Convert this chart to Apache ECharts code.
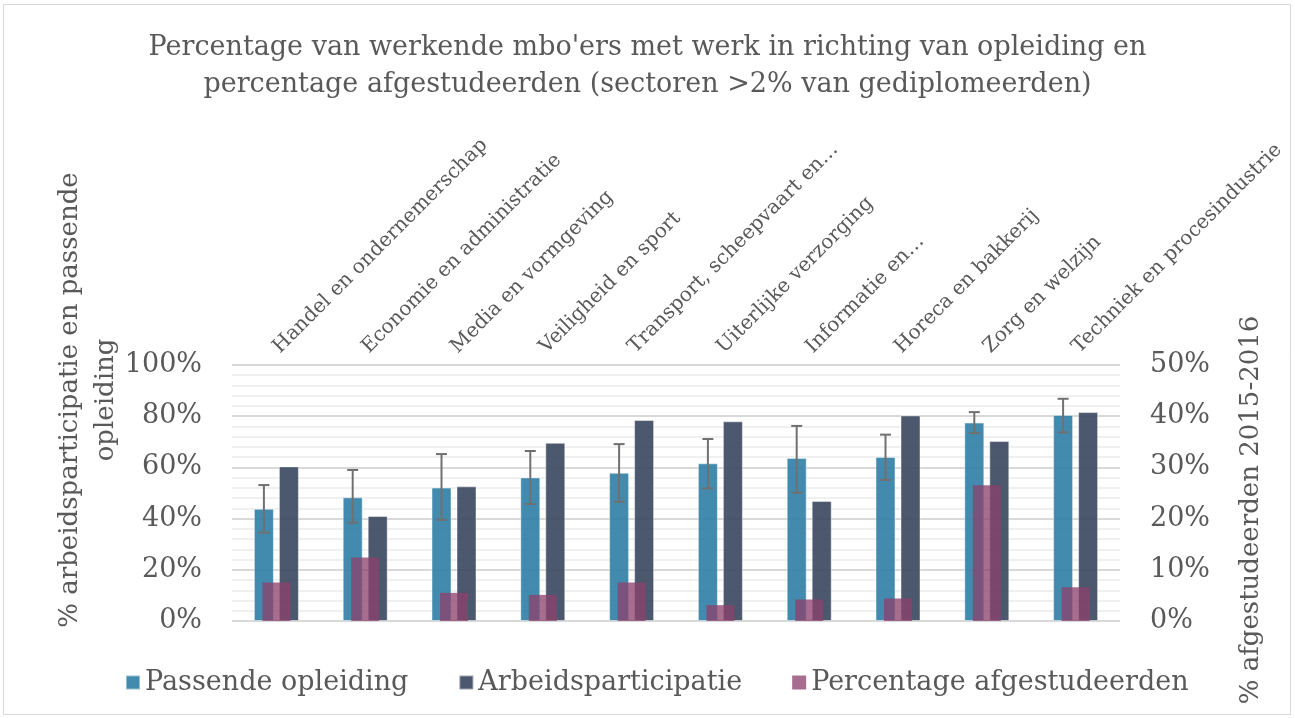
<!DOCTYPE html>
<html>
<head>
<meta charset="utf-8">
<script src="https://cdn.jsdelivr.net/npm/echarts@6/dist/echarts.min.js"></script>
<style>
  html, body { margin: 0; padding: 0; background: #fff; }
  #chart { width: 1295px; height: 718px; }
</style>
</head>
<body>
<div id="chart"></div>
<script>
// sectoren (labels zoals in de grafiek, afgekapt waar Excel afkapt)
const sectoren = [
  "Handel en ondernemerschap",
  "Economie en administratie",
  "Media en vormgeving",
  "Veiligheid en sport",
  "Transport, scheepvaart en\u2026",
  "Uiterlijke verzorging",
  "Informatie en\u2026",
  "Horeca en bakkerij",
  "Zorg en welzijn",
  "Techniek en procesindustrie"
];

// linker as (%)
const passendeOpleiding = [43.8, 48.3, 52.1, 56.1, 57.9, 61.6, 63.7, 64.1, 77.5, 80.5];
const arbeidsparticipatie = [60.4, 41.0, 52.6, 69.6, 78.5, 78.0, 46.9, 80.3, 70.3, 81.6];
// foutbalken bij passende opleiding
const foutOnder = [34.5, 38.4, 39.5, 45.7, 46.6, 51.8, 50.1, 55.1, 73.4, 73.7];
const foutBoven = [53.1, 59.0, 65.2, 66.4, 69.1, 71.1, 76.2, 72.8, 81.6, 86.8];

// rechter as (%)
const afgestudeerden = [7.5, 12.4, 5.5, 5.1, 7.5, 3.1, 4.2, 4.4, 26.5, 6.6];

const TEXT = "#595959";
const FONT = "DejaVu Serif";
const BAR_W = 20;
const BAR_GAP = 5;

const chart = echarts.init(document.getElementById("chart"));

chart.setOption({
  backgroundColor: "#fff",
  textStyle: { fontFamily: FONT, color: TEXT },
  title: {
    text: "Percentage van werkende mbo'ers met werk in richting van opleiding en\npercentage afgestudeerden (sectoren >2% van gediplomeerden)",
    left: "center",
    top: 24,
    textStyle: { fontFamily: FONT, color: TEXT, fontSize: 27, fontWeight: "normal", lineHeight: 37 },
  },
  graphic: [{
    type: "rect",
    silent: true,
    shape: { x: 3.5, y: 4.5, width: 1287, height: 710 },
    style: { fill: null, stroke: "#d9d9d9", lineWidth: 1 },
  }],
  legend: {
    data: ["Passende opleiding", "Arbeidsparticipatie", "Percentage afgestudeerden"],
    left: 120,
    top: 664,
    itemWidth: 14,
    itemHeight: 14,
    itemGap: 50,
    icon: "rect",
    textStyle: { fontFamily: FONT, color: TEXT, fontSize: 27 },
  },
  grid: { left: 232, right: 175, top: 365, bottom: 97, outerBoundsMode: "none" },
  xAxis: [{
    type: "category",
    position: "top",
    data: sectoren,
    axisLine: { show: false },
    axisTick: { show: false },
    axisLabel: {
      rotate: 45,
      interval: 0,
      margin: 15,
      color: TEXT,
      fontFamily: FONT,
      fontSize: 20,
    },
  }, {
    type: "category",
    data: sectoren,
    show: false,
  }],
  yAxis: [{
    type: "value",
    min: 0,
    max: 100,
    interval: 20,
    name: "% arbeidsparticipatie en passende\nopleiding",
    nameLocation: "middle",
    nameGap: 108,
    nameMoveOverlap: false,
    nameTextStyle: { color: TEXT, fontFamily: FONT, fontSize: 26, lineHeight: 36, padding: [0, 0, 0, 186] },
    axisLine: { show: false },
    axisTick: { show: false },
    axisLabel: { formatter: "{value}%", color: TEXT, fontFamily: FONT, fontSize: 27, margin: 30 },
    splitLine: { lineStyle: { color: "#d9d9d9", width: 2 } },
    minorTick: { show: false, splitNumber: 5 },
    minorSplitLine: { show: true, lineStyle: { color: "#f0f0f0", width: 2 } },
  }, {
    type: "value",
    min: 0,
    max: 50,
    interval: 10,
    position: "right",
    name: "% afgestudeerden 2015-2016",
    nameLocation: "middle",
    nameGap: 118,
    nameMoveOverlap: false,
    nameTextStyle: { color: TEXT, fontFamily: FONT, fontSize: 26, padding: [0, 34, 0, 0] },
    axisLine: { show: false },
    axisTick: { show: false },
    splitLine: { show: false },
    axisLabel: { formatter: "{value}%", color: TEXT, fontFamily: FONT, fontSize: 27, margin: 30 },
  }],
  series: [{
    name: "Passende opleiding",
    type: "bar",
    xAxisIndex: 0,
    yAxisIndex: 0,
    data: passendeOpleiding,
    barWidth: BAR_W,
    barGap: (BAR_GAP / BAR_W * 100) + "%",
    itemStyle: { color: "#2d7ea5", opacity: 0.9, borderColor: "rgba(255,255,255,0.5)", borderWidth: 1 },
    z: 2,
  }, {
    name: "Arbeidsparticipatie",
    type: "bar",
    xAxisIndex: 0,
    yAxisIndex: 0,
    data: arbeidsparticipatie,
    barWidth: BAR_W,
    itemStyle: { color: "#37465e", opacity: 0.9, borderColor: "rgba(255,255,255,0.5)", borderWidth: 1 },
    z: 2,
  }, {
    name: "Foutmarge",
    type: "custom",
    xAxisIndex: 0,
    yAxisIndex: 0,
    data: sectoren.map((s, i) => [i, foutOnder[i], foutBoven[i]]),
    z: 4,
    renderItem: (params, api) => {
      const off = -(BAR_W + BAR_GAP) / 2;
      const lo = api.coord([api.value(0), api.value(1)]);
      const hi = api.coord([api.value(0), api.value(2)]);
      const x = lo[0] + off;
      const cap = 5.5;
      const style = { stroke: "#707070", lineWidth: 2, fill: null };
      return {
        type: "group",
        children: [
          { type: "line", shape: { x1: x, y1: lo[1], x2: x, y2: hi[1] }, style },
          { type: "line", shape: { x1: x - cap, y1: lo[1], x2: x + cap, y2: lo[1] }, style },
          { type: "line", shape: { x1: x - cap, y1: hi[1], x2: x + cap, y2: hi[1] }, style },
        ],
      };
    },
  }, {
    name: "Percentage afgestudeerden",
    type: "bar",
    xAxisIndex: 1,
    yAxisIndex: 1,
    data: afgestudeerden,
    barWidth: 28,
    itemStyle: { color: "#8d406c", opacity: 0.76 },
    z: 3,
  }],
}, true);
</script>
</body>
</html>
